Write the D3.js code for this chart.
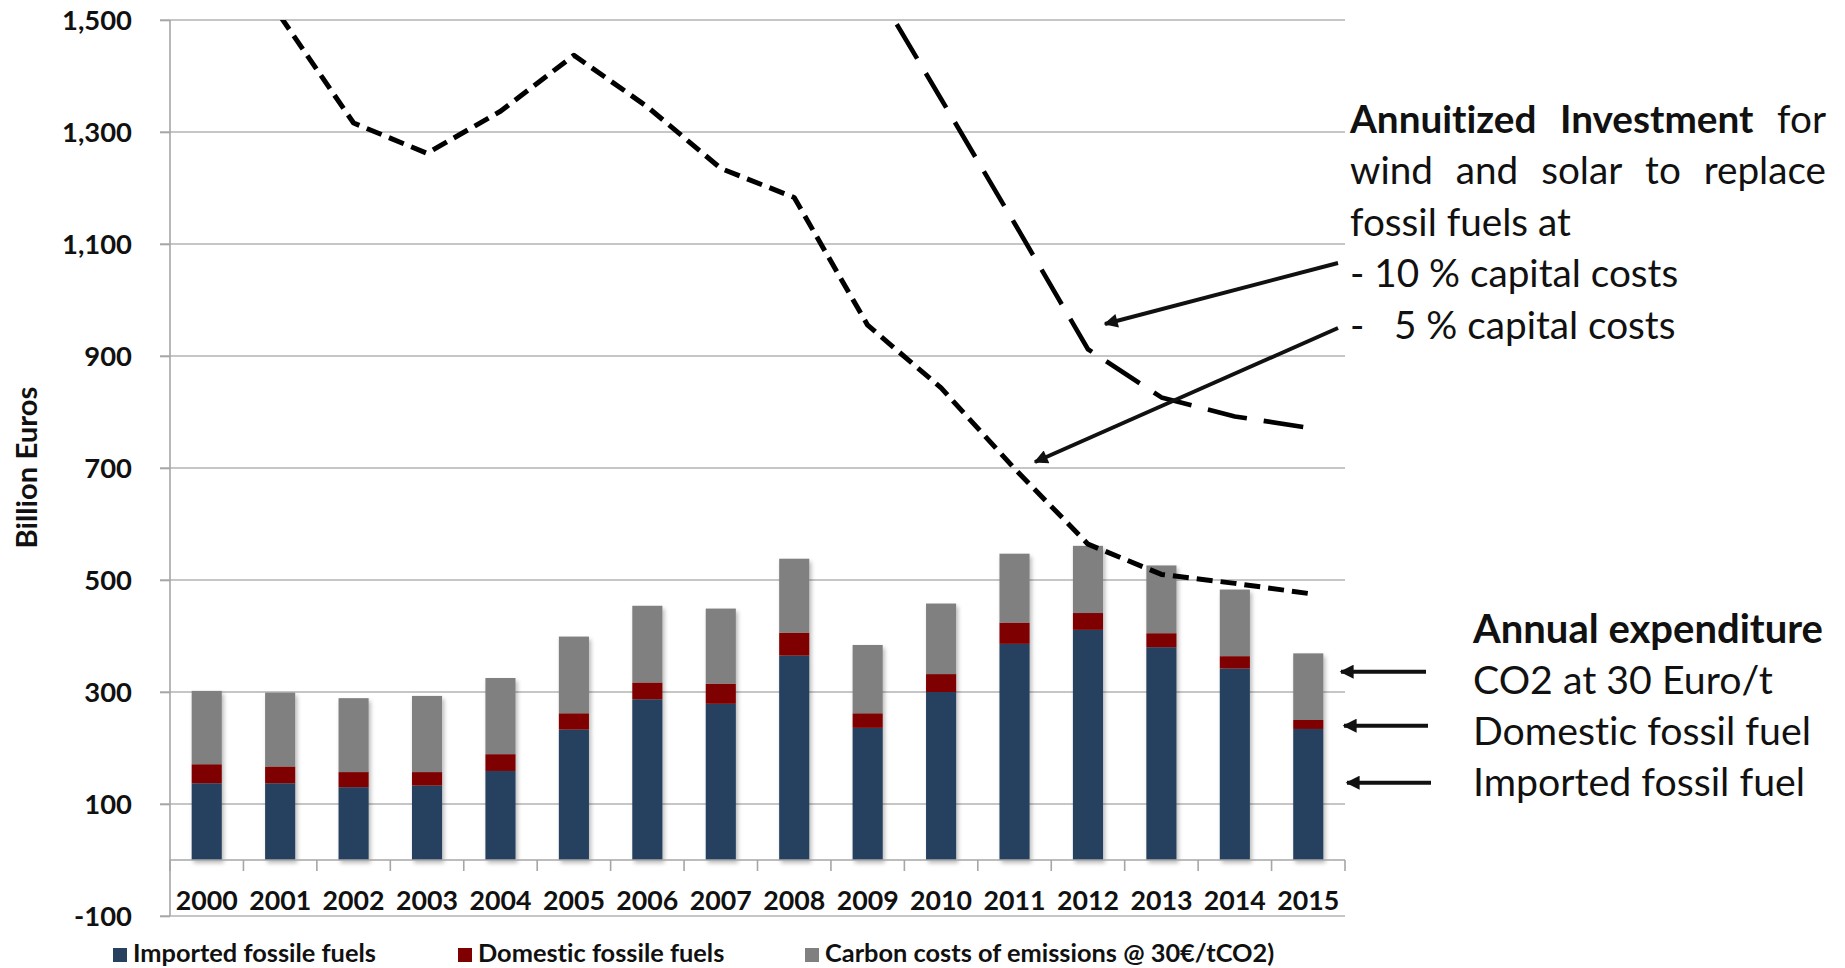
<!DOCTYPE html>
<html>
<head>
<meta charset="utf-8">
<script src="https://cdn.jsdelivr.net/npm/d3@7"></script>
<style>
  html, body { margin: 0; padding: 0; background: #ffffff; }
  svg { display: block; }
  text { font-family: Lato, "Open Sans", sans-serif; fill: #111; font-variant-ligatures: none; }
</style>
</head>
<body>
<svg id="chart" width="1845" height="968"></svg>
<script>
// ---------------- data ----------------
const years = ["2000","2001","2002","2003","2004","2005","2006","2007","2008","2009","2010","2011","2012","2013","2014","2015"];
const imported = [137,137,130,133,159,233,287,279,365,236,300,386,411,380,342,234];
const domestic = [34,30,27,24,30,29,30,36,41,26,32,38,30,25,22,16];
const carbon   = [131,132,132,136,136,137,137,134,132,122,126,123,120,121,119,119];
const invest5  = [null,1507,1316,1262,1337,1437,1345,1235,1183,955,843,699,564,510,494,476];
const invest10 = [null,null,null,null,null,null,null,null,null,1580,1359,1137,912,826,792,772];
const yTicks   = [-100,100,300,500,700,900,1100,1300,1500];
const seriesNames = ["Imported fossile fuels","Domestic fossile fuels","Carbon costs of emissions @ 30€/tCO2)"];
const seriesColors = ["#27415F","#7F0000","#808080"];

// ---------------- layout ----------------
const svg = d3.select("#chart");
const L = 170, R = 1345, T = 20, B = 916;

const x = d3.scaleBand().domain(years).range([L, R]).paddingInner(0.59).paddingOuter(0.295);
const y = d3.scaleLinear().domain([-100, 1500]).range([B, T]);

function fitFont(sel, target) {
  const n = sel.node();
  const fs = parseFloat(sel.attr("font-size"));
  const w = n.getComputedTextLength();
  return fs * target / w;
}

// defs
const defs = svg.append("defs");
const shadow = defs.append("filter").attr("id","shadow").attr("x","-30%").attr("y","-10%").attr("width","160%").attr("height","130%");
shadow.append("feDropShadow").attr("dx",2).attr("dy",3).attr("stdDeviation",2.2).attr("flood-color","#000").attr("flood-opacity",0.28);
defs.append("clipPath").attr("id","plotclip").append("rect").attr("x",L).attr("y",T).attr("width",R-L).attr("height",B-T);
const mk = defs.append("marker").attr("id","arrow").attr("viewBox","0 0 10 10").attr("refX",9).attr("refY",5)
  .attr("markerUnits","userSpaceOnUse").attr("markerWidth",18).attr("markerHeight",14).attr("orient","auto");
mk.append("path").attr("d","M0,0 L10,5 L0,10 Z").attr("fill","#111");

// gridlines
svg.append("g").selectAll("line").data(yTicks).join("line")
  .attr("x1", L - 10).attr("x2", R).attr("y1", d => y(d)).attr("y2", d => y(d))
  .attr("stroke", "#b3b3b3").attr("stroke-width", 1.6);

// y axis
const fmt = d3.format(",");
const yAxis = svg.append("g").attr("transform", `translate(${L},0)`)
  .call(d3.axisLeft(y).tickValues(yTicks).tickFormat(d => fmt(d).replace("\u2212", "-")).tickSize(10).tickPadding(28));
yAxis.select(".domain").attr("stroke","#a6a6a6").attr("stroke-width",1.6).attr("d", `M0,${T}V${B}`);
yAxis.selectAll(".tick line").attr("stroke","#a6a6a6").attr("stroke-width",1.6);
yAxis.selectAll(".tick text").attr("font-family","Lato").attr("font-weight","bold").attr("font-size",28).attr("fill","#111").attr("dy","0.36em");
{
  const t = yAxis.selectAll(".tick text").filter(d => d === 1500);
  const fs = fitFont(t, 70);
  yAxis.selectAll(".tick text").attr("font-size", fs);
}

// bars
const stackData = years.map((yr, i) => ({ year: yr, v: [imported[i], domestic[i], carbon[i]] }));
const barG = svg.append("g").attr("filter","url(#shadow)");
stackData.forEach(d => {
  let acc = 0;
  d.v.forEach((val, k) => {
    barG.append("rect")
      .attr("x", x(d.year)).attr("width", x.bandwidth())
      .attr("y", y(acc + val)).attr("height", y(acc) - y(acc + val))
      .attr("fill", seriesColors[k]);
    acc += val;
  });
});

// category axis at 0
const x0 = y(0);
const xAxis = svg.append("g").attr("transform", `translate(0,${x0})`)
  .call(d3.axisBottom(x).tickSize(0).tickPadding(38));
xAxis.select(".domain").attr("stroke","#a6a6a6").attr("stroke-width",1.6).attr("d", `M${L},0H${R}`);
xAxis.selectAll(".tick text").attr("font-family","Lato").attr("font-weight","bold").attr("font-size",28).attr("fill","#111").attr("dy","0");
{
  const t = xAxis.selectAll(".tick text").filter(d => d === "2000");
  const fs = fitFont(t, 62);
  xAxis.selectAll(".tick text").attr("font-size", fs).attr("y", 910 - x0);
}
const boundaries = years.map(yr => x(yr) - (x.step() - x.bandwidth()) / 2).concat([R]);
xAxis.append("g").selectAll("line").data(boundaries).join("line")
  .attr("x1", d => d).attr("x2", d => d).attr("y1", 0).attr("y2", 11)
  .attr("stroke","#a6a6a6").attr("stroke-width",1.6);

// investment lines
const cx = (i) => x(years[i]) + x.bandwidth() / 2;
const line = d3.line().defined(d => d != null).x((d, i) => cx(i)).y(d => y(d));
const lineG = svg.append("g").attr("clip-path","url(#plotclip)");
lineG.append("path").attr("d", line(invest5)).attr("fill","none").attr("stroke","#000")
  .attr("stroke-width",5).attr("stroke-dasharray","16,8").attr("stroke-linejoin","round");
lineG.append("path").attr("d", line(invest10)).attr("fill","none").attr("stroke","#000")
  .attr("stroke-width",4.6).attr("stroke-dasharray","40,17").attr("stroke-linejoin","round");

// annotation arrows
const arrows = [
  [1338, 263, 1105, 324],
  [1338, 328, 1035, 462],
  [1426, 671.7, 1341, 671.7],
  [1428, 725.7, 1344, 725.7],
  [1431, 782.7, 1347, 782.7]
];
svg.append("g").selectAll("line").data(arrows).join("line")
  .attr("x1", d => d[0]).attr("y1", d => d[1]).attr("x2", d => d[2]).attr("y2", d => d[3])
  .attr("stroke","#111").attr("stroke-width",4).attr("marker-end","url(#arrow)");

// annotation text: top block
const ann = svg.append("g");
const probe = ann.append("text").attr("font-size",40).text("fossil fuels at");
const fsTop = fitFont(probe, 221);
probe.remove();

function justify(words, xa, xb, yb, fs) {
  const nodes = words.map(w => ann.append("text").attr("font-size", fs)
    .attr("font-weight", w.bold ? "bold" : "normal").attr("y", yb).text(w.t));
  const widths = nodes.map(n => n.node().getComputedTextLength());
  const total = d3.sum(widths);
  const gap = (xb - xa - total) / (words.length - 1);
  let cxp = xa;
  nodes.forEach((n, i) => { n.attr("x", cxp); cxp += widths[i] + gap; });
}
const TX0 = 1350, TX1 = 1826;
justify([{t:"Annuitized",bold:true},{t:"Investment",bold:true},{t:"for"}], TX0, TX1, 133, fsTop);
justify([{t:"wind"},{t:"and"},{t:"solar"},{t:"to"},{t:"replace"}], TX0, TX1, 184, fsTop);
ann.append("text").attr("x", TX0).attr("y", 235.5).attr("font-size", fsTop).text("fossil fuels at");
ann.append("text").attr("x", TX0).attr("y", 287).attr("font-size", fsTop).text("- 10 % capital costs");
const l5 = ann.append("text").attr("y", 338.5).attr("font-size", fsTop);
l5.append("tspan").attr("x", TX0).text("-");
l5.append("tspan").attr("x", 1394).text("5 % capital costs");

// annotation text: bottom block
const probe2 = ann.append("text").attr("font-size",40).text("Domestic fossil fuel");
const fsBot = fitFont(probe2, 338);
probe2.remove();
const BX = 1473;
const t1 = ann.append("text").attr("x", BX).attr("y", 643).attr("font-size", fsBot).attr("font-weight","bold").text("Annual expenditure");
t1.attr("font-size", fitFont(t1, 350));
ann.append("text").attr("x", BX).attr("y", 693.5).attr("font-size", fsBot).text("CO2 at 30 Euro/t");
ann.append("text").attr("x", BX).attr("y", 744.5).attr("font-size", fsBot).text("Domestic fossil fuel");
ann.append("text").attr("x", BX).attr("y", 795.5).attr("font-size", fsBot).text("Imported fossil fuel");

// y axis title
const yt = svg.append("text").attr("transform","translate(36.5,467.5) rotate(-90)")
  .attr("text-anchor","middle").attr("font-weight","bold").attr("font-size",30).text("Billion Euros");
yt.attr("font-size", fitFont(yt, 162));

// legend
const legX = [113, 458, 805];
const leg = svg.append("g");
const legItems = leg.selectAll("g").data(seriesNames).join("g");
legItems.append("rect").attr("x", (d,i) => legX[i]).attr("y", 948).attr("width", 14).attr("height", 14)
  .attr("fill", (d,i) => seriesColors[i]);
legItems.append("text").attr("x", (d,i) => legX[i] + 20).attr("y", 961.5)
  .attr("font-weight","bold").attr("font-size", 26).text(d => d);
{
  const t = legItems.select("text").filter(d => d === seriesNames[0]);
  const fs = fitFont(t, 243);
  legItems.select("text").attr("font-size", fs);
}
</script>
</body>
</html>
